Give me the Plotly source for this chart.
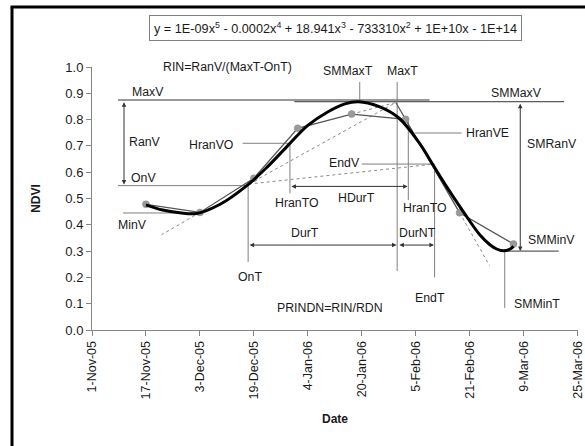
import datetime
import plotly.graph_objects as go

# ---------------- data ----------------
obs_dates = ["2005-11-17", "2005-12-03", "2005-12-19", "2006-01-01",
             "2006-01-17", "2006-02-02", "2006-02-18", "2006-03-06"]
obs_ndvi = [0.478, 0.447, 0.577, 0.767, 0.821, 0.801, 0.446, 0.327]

# thick smoothed (polynomial trend) curve
smooth_dates = ["2005-11-17", "2005-11-22", "2005-11-27", "2005-12-02", "2005-12-09",
                "2005-12-17", "2005-12-23", "2005-12-29", "2006-01-04", "2006-01-10",
                "2006-01-15", "2006-01-19", "2006-01-25", "2006-01-31", "2006-02-06",
                "2006-02-10", "2006-02-14", "2006-02-19", "2006-02-24", "2006-02-27",
                "2006-03-01", "2006-03-03", "2006-03-05", "2006-03-06"]
smooth_ndvi = [0.476, 0.456, 0.446, 0.443, 0.478,
               0.550, 0.620, 0.700, 0.778, 0.830,
               0.860, 0.868, 0.850, 0.806, 0.712,
               0.630, 0.548, 0.452, 0.362, 0.324,
               0.308, 0.301, 0.308, 0.318]

tick_dates = ["2005-11-01", "2005-11-17", "2005-12-03", "2005-12-19", "2006-01-04",
              "2006-01-20", "2006-02-05", "2006-02-21", "2006-03-09", "2006-03-25"]
tick_text = ["1-Nov-05", "17-Nov-05", "3-Dec-05", "19-Dec-05", "4-Jan-06",
             "20-Jan-06", "5-Feb-06", "21-Feb-06", "9-Mar-06", "25-Mar-06"]
y_ticks = [0.0, 0.1, 0.2, 0.3, 0.4, 0.5, 0.6, 0.7, 0.8, 0.9, 1.0]

equation = ("y = 1E-09x<sup>5</sup> - 0.0002x<sup>4</sup> + 18.941x<sup>3</sup> - "
            "733310x<sup>2</sup> + 1E+10x - 1E+14")

BASE = datetime.datetime(2005, 11, 1)


def D(day):
    return (BASE + datetime.timedelta(days=day)).strftime("%Y-%m-%d %H:%M")


FONT = "Arial, Liberation Sans, sans-serif"
TXT = "#1a1a1a"
GUIDE = "#7f7f7f"
LBL = 12.3

fig = go.Figure()
fig.add_trace(go.Scatter(x=obs_dates, y=obs_ndvi, mode="lines+markers",
                         line=dict(color="#555555", width=1.3),
                         marker=dict(color="#9a9a9a", size=7,
                                     line=dict(color="#8a8a8a", width=0.5)),
                         name="NDVI"))
fig.add_trace(go.Scatter(x=smooth_dates, y=smooth_ndvi, mode="lines",
                         line=dict(color="black", width=3, shape="spline", smoothing=1.0),
                         name="Poly. (NDVI)"))

shapes = []


def seg(d0, v0, d1, v1, color=GUIDE, width=1, dash="solid"):
    shapes.append(dict(type="line", xref="x", yref="y", x0=D(d0), y0=v0, x1=D(d1), y1=v1,
                       line=dict(color=color, width=width, dash=dash), layer="below"))


# horizontal guides
seg(60, 0.868, 140, 0.868, color="#333333", width=1)          # SMMaxV
seg(7.7, 0.875, 100.1, 0.875, color="#999999", width=2)       # MaxV
seg(7.7, 0.549, 46.3, 0.549)                                  # OnV
seg(9.2, 0.445, 32, 0.445)                                    # MinV
seg(44.7, 0.71, 58.7, 0.71)                                   # HranVO
seg(95.7, 0.749, 109.6, 0.749)                                # HranVE
seg(80, 0.631, 101.4, 0.631)                                  # EndV
seg(120.9, 0.30, 138.4, 0.30, color="#333333")                # SMMinV
# vertical guides
seg(79.4, 0.943, 79.4, 0.869)                                 # SMMaxT
seg(90.5, 0.943, 90.5, 0.224)                                 # MaxT
seg(46.3, 0.549, 46.3, 0.259)                                 # OnT
seg(101.6, 0.631, 101.6, 0.20)                                # EndT
seg(58.7, 0.71, 58.7, 0.52)                                   # HranTO left
seg(93.8, 0.798, 93.8, 0.494)                                 # HranTO right
seg(122.4, 0.30, 122.4, 0.084)                                # SMMinT
# tangent construction lines
seg(90.1, 0.865, 93, 0.801, color="#555555", width=1.2)
seg(77, 0.821, 90.1, 0.865, color="#8a8a8a", dash="dot")
seg(109, 0.446, 117.9, 0.245, color="#8a8a8a", dash="dot")
seg(32, 0.447, 20.6, 0.362, color="#8a8a8a", dash="dot")
seg(46.5, 0.555, 90.1, 0.865, color="#8a8a8a", dash="dot")
seg(46.5, 0.555, 101.6, 0.631, color="#8a8a8a", dash="dot")

# outer frame (left and top edges visible)
shapes.append(dict(type="line", xref="paper", yref="paper", x0=-0.1646, y0=1.228,
                   x1=-0.1646, y1=-0.46, line=dict(color="black", width=3)))
shapes.append(dict(type="line", xref="paper", yref="paper", x0=-0.1675, y0=1.228,
                   x1=1.03, y1=1.228, line=dict(color="black", width=3)))

annotations = []


def label(text, d, v, xanchor="center", size=LBL):
    annotations.append(dict(text=text, x=D(d), y=v, xref="x", yref="y", showarrow=False,
                            xanchor=xanchor, yanchor="middle",
                            font=dict(family=FONT, size=size, color=TXT)))


def arrow(d0, v0, d1, v1, both=True):
    annotations.append(dict(text="", x=D(d1), y=v1, ax=D(d0), ay=v0, xref="x", yref="y",
                            axref="x", ayref="y", showarrow=True, arrowhead=2,
                            arrowside="end+start" if both else "end",
                            arrowsize=0.9, arrowwidth=1, arrowcolor="#333333",
                            standoff=0, startstandoff=0))


label("RIN=RanV/(MaxT-OnT)", 40.3, 1.0)
label("RDN=RanV/(EndT-MaxT)", 122.7, 1.019)
label("SMMaxT", 75.9, 0.985)
label("MaxT", 92.1, 0.985)
label("SMMaxV", 125.9, 0.901)
label("MaxV", 16.6, 0.905)
label("RanV", 15.7, 0.715)
label("OnV", 15.4, 0.578)
label("MinV", 11.9, 0.40)
label("HranVO", 35.3, 0.703)
label("HranTO", 60.7, 0.483)
label("HDurT", 78.5, 0.502)
label("HranTO", 98.7, 0.464)
label("HranVE", 117.3, 0.749)
label("EndV", 75.0, 0.635)
label("SMRanV", 136.3, 0.707)
label("DurT", 63.1, 0.369)
label("DurNT", 96.6, 0.369)
label("SMMinV", 136.3, 0.342)
label("OnT", 46.8, 0.200)
label("EndT", 100.1, 0.122)
label("SMMinT", 124.6, 0.099, xanchor="left")
label("PRINDN=RIN/RDN", 70.5, 0.084)

arrow(9.5, 0.872, 9.5, 0.553)        # RanV
arrow(127.0, 0.866, 127.0, 0.300)    # SMRanV
arrow(58.7, 0.546, 93.6, 0.546)      # HDurT
arrow(46.3, 0.323, 90.3, 0.323)      # DurT
arrow(90.7, 0.323, 101.4, 0.323)     # DurNT

annotations.append(dict(text=equation, xref="paper", yref="paper", x=0.5, y=1.148,
                        xanchor="center", yanchor="middle", showarrow=False,
                        font=dict(family=FONT, size=12.7, color=TXT),
                        bordercolor="#808080", borderwidth=1, borderpad=4,
                        bgcolor="white"))

fig.update_layout(
    width=585, height=446,
    margin=dict(l=92, r=7, t=67, b=116, autoexpand=False),
    paper_bgcolor="white", plot_bgcolor="white",
    showlegend=False,
    font=dict(family=FONT, size=12.5, color=TXT),
    shapes=shapes,
    annotations=annotations,
    xaxis=dict(range=["2005-11-01", "2006-03-25 03:00"], tickmode="array",
               tickvals=tick_dates, ticktext=tick_text, tickangle=-90,
               showgrid=False, zeroline=False, showline=True, linecolor="#868686",
               linewidth=1, ticks="outside", ticklen=5, tickcolor="#868686",
               tickfont=dict(family=FONT, size=12.5, color=TXT),
               title=dict(text="<b>Date</b>", standoff=16,
                          font=dict(family=FONT, size=12, color=TXT))),
    yaxis=dict(range=[0, 1.0], tickmode="array", tickvals=y_ticks, tickformat=".1f",
               showgrid=False, zeroline=False, showline=True, linecolor="#868686",
               linewidth=1, ticks="outside", ticklen=5, tickcolor="#868686",
               tickfont=dict(family=FONT, size=13, color=TXT),
               title=dict(text="<b>NDVI</b>", standoff=22,
                          font=dict(family=FONT, size=12, color=TXT))),
)

fig.write_html("out.html", config={"displayModeBar": False},
               post_script="document.body.style.margin='0';document.body.style.padding='0';")
